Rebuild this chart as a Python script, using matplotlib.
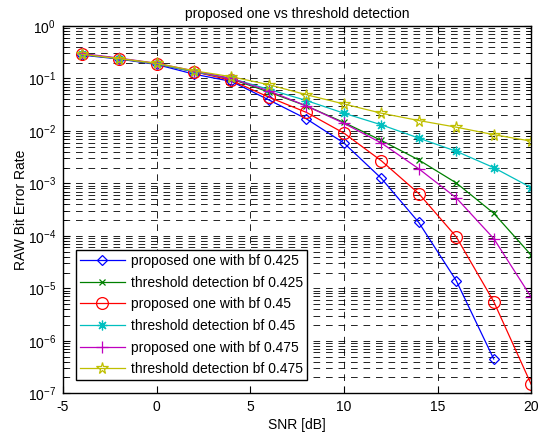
import numpy as np
import matplotlib.pyplot as plt
from matplotlib.ticker import LogLocator, NullFormatter

plt.rcParams['font.family'] = ['Liberation Sans', 'DejaVu Sans']
plt.rcParams['mathtext.fontset'] = 'custom'
plt.rcParams['mathtext.rm'] = 'Liberation Sans'
plt.rcParams['axes.unicode_minus'] = False

snr = [-4, -2, 0, 2, 4, 6, 8, 10, 12, 14, 16, 18, 20]

# (BER per SNR point)
prop_425 = [0.28, 0.235, 0.185, 0.121, 0.088, 0.039, 0.017, 0.0059, 0.00125, 0.00018, 1.4e-5, 4.5e-7, np.nan]
thr_425 = [0.29, 0.24, 0.19, 0.135, 0.098, 0.055, 0.030, 0.0145, 0.0066, 0.0028, 0.00102, 0.00027, 4.3e-5]
prop_45 = [0.29, 0.24, 0.19, 0.135, 0.092, 0.044, 0.0226, 0.0091, 0.0027, 0.00064, 9.6e-5, 5.6e-6, 1.48e-7]
thr_45 = [0.29, 0.24, 0.19, 0.135, 0.100, 0.062, 0.038, 0.0218, 0.0131, 0.0073, 0.0041, 0.0020, 0.00083]
prop_475 = [0.30, 0.245, 0.195, 0.14, 0.10, 0.058, 0.030, 0.014, 0.0059, 0.0019, 0.00053, 8.9e-5, 6.8e-6]
thr_475 = [0.29, 0.24, 0.195, 0.14, 0.108, 0.076, 0.049, 0.0327, 0.0218, 0.0158, 0.0118, 0.0085, 0.0064]

labels = ['proposed one with bf 0.425', 'threshold detection bf 0.425',
          'proposed one with bf 0.45', 'threshold detection bf 0.45',
          'proposed one with bf 0.475', 'threshold detection bf 0.475']

fig = plt.figure(figsize=(5.42, 4.34), dpi=100)
ax = fig.add_axes([0.116, 0.094, 0.864, 0.846])

ax.semilogy(snr, prop_425, '-', color=(0, 0, 1), marker='D', ms=5.5, mfc='none', mew=0.9, lw=0.9, label=labels[0])
ax.semilogy(snr, thr_425, '-', color=(0, 0.5, 0), marker='x', ms=4, mew=0.9, lw=0.9, label=labels[1])
ax.semilogy(snr, prop_45, '-', color=(1, 0, 0), marker='o', ms=8.5, mfc='none', mew=0.9, lw=0.9, label=labels[2])
ax.semilogy(snr, thr_45, '-', color=(0, 0.75, 0.75), marker=(8, 2, 0), ms=7, mew=0.9, lw=0.9, label=labels[3])
ax.semilogy(snr, prop_475, '-', color=(0.75, 0, 0.75), marker='+', ms=9, mew=0.9, lw=0.9, label=labels[4])
ax.semilogy(snr, thr_475, '-', color=(0.75, 0.75, 0), marker='*', ms=8.5, mfc='none', mew=0.9, lw=0.9, label=labels[5])

ax.set_xlim(-5, 20)
ax.set_ylim(1e-7, 1)
ax.set_xticks([-5, 0, 5, 10, 15, 20])
ax.yaxis.set_major_locator(LogLocator(base=10, numticks=10))
ax.yaxis.set_minor_locator(LogLocator(base=10, subs=np.arange(2, 10), numticks=20))
ax.yaxis.set_minor_formatter(NullFormatter())

ax.grid(True, which='major', color='black', linestyle=(0, (8, 7)), lw=0.6)
ax.grid(True, which='minor', axis='y', color='black', linestyle=(0, (8, 7)), lw=0.6)
ax.tick_params(which='both', direction='in', top=True, right=True, labelsize=10)
ax.tick_params(which='major', length=5, pad=5)
ax.tick_params(which='minor', length=3)
for s in ax.spines.values():
    s.set_linewidth(1.0)

ax.set_title('proposed one vs threshold detection', fontsize=10, pad=6)
ax.set_xlabel('SNR [dB]', fontsize=10, labelpad=3)
ax.set_ylabel('RAW Bit Error Rate', fontsize=10, labelpad=0)

leg = ax.legend(loc='lower left', bbox_to_anchor=(0.028, 0.035), fontsize=10, frameon=True,
                fancybox=False, edgecolor='black', framealpha=1, handlelength=3.2,
                labelspacing=0.55, borderpad=0.3, handletextpad=0.45, borderaxespad=0)
leg.get_frame().set_linewidth(1.0)

fig.savefig('out.png', dpi=100)
